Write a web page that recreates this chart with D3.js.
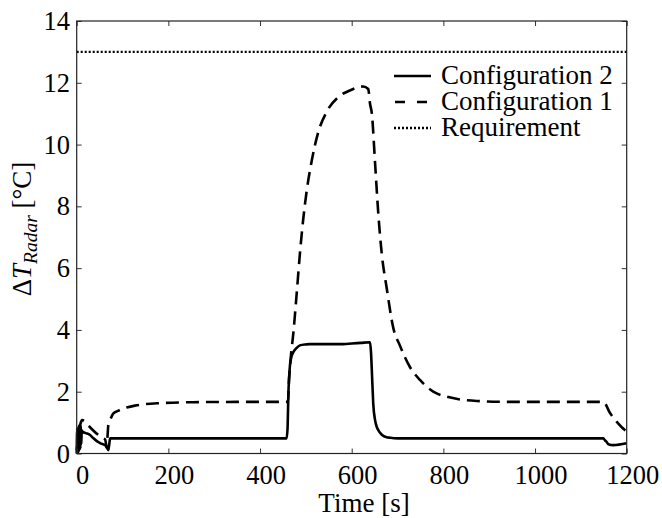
<!DOCTYPE html>
<html>
<head>
<meta charset="utf-8">
<script src="https://cdn.jsdelivr.net/npm/d3@7"></script>
<style>
  html, body { margin: 0; padding: 0; background: #fff; }
  svg { display: block; }
</style>
</head>
<body>
<svg id="chart" width="662" height="518"></svg>
<script>
// time ticks / value ticks
const xTicks = [0, 200, 400, 600, 800, 1000, 1200];
const yTicks = [0, 2, 4, 6, 8, 10, 12, 14];

// Configuration 2 (solid)
const conf2T = [0, 1, 2, 3, 4, 5, 6, 7, 8, 9, 10, 11, 13, 20, 29, 36, 44, 52, 62, 66, 69, 71, 73, 80, 200, 458,
  460, 462, 465, 468, 472, 480, 487, 500, 509, 582, 600, 620, 640, 642, 645, 647, 651, 655, 658, 663, 669, 676, 684,
  700, 800, 1149, 1153, 1156, 1160, 1171, 1200];
const conf2V = [0, 0.8, 0.1, 0.85, 0.05, 0.9, 0.1, 0.85, 0.15, 0.9, 0.3, 0.75, 0.7, 0.66, 0.6, 0.5, 0.4, 0.33, 0.27, 0.2, 0.11, 0.3, 0.49, 0.49, 0.49, 0.49,
  0.8, 2.0, 2.8, 3.1, 3.26, 3.42, 3.5, 3.53, 3.54, 3.54, 3.56, 3.58, 3.6, 3.3, 2.3, 1.62, 1.08, 0.85, 0.76, 0.65, 0.57, 0.53, 0.51,
  0.49, 0.49, 0.49, 0.42, 0.38, 0.3, 0.27, 0.33];

// Configuration 1 (dashed)
const conf1T = [0, 4, 8, 12, 18, 25, 35, 47, 58, 62, 64, 65, 67, 69, 74, 80, 90, 102, 109, 127, 145, 182, 254, 350, 461,
  463, 467, 472.6, 480, 487, 494, 502, 513, 527, 545, 571, 596, 625, 636, 640, 644, 651, 658, 665.5, 676, 691, 705,
  727, 749, 778, 807, 836, 873, 950, 1149, 1164, 1178, 1196, 1200];
const conf1V = [0.1, 0.6, 0.95, 1.08, 1.05, 0.92, 0.76, 0.6, 0.49, 0.45, 0.3, 0.18, 0.5, 0.92, 1.12, 1.3, 1.38, 1.46, 1.49, 1.55, 1.59, 1.63, 1.66, 1.67, 1.67,
  2.3, 3.1, 3.89, 5.18, 6.47, 7.55, 8.52, 9.49, 10.4, 11.05, 11.54, 11.75, 11.88, 11.8, 11.32, 11.0, 9.4, 7.77, 6.47, 5.39, 4.05, 3.5,
  2.8, 2.38, 2.0, 1.84, 1.75, 1.70, 1.67, 1.67, 1.3, 1.03, 0.76, 0.72];

// requirement
const reqT = [0, 1200];
const reqV = [13, 13];

const legendNames = ["Configuration 2", "Configuration 1", "Requirement"];

const LEFT = 76.7, RIGHT = 626.7, TOP = 21, BOTTOM = 453.5;
const TICK_LEN = 5;
const FONT = 26.5;
const SERIF = "'Liberation Serif', 'Times New Roman', Times, 'DejaVu Serif', serif";

const svg = d3.select("#chart");
const g = svg.append("g").attr("font-family", SERIF);

const x = d3.scaleLinear().domain([0, 1200]).range([LEFT, RIGHT]);
const y = d3.scaleLinear().domain([0, 14]).range([BOTTOM, TOP]);

function zip(ts, vs) {
    return ts.map((t, i) => ({ t: t, v: vs[i] }));
}

function draw_frame() {
    // ticks inward on all four sides
    g.append("g").attr("transform", `translate(0,${BOTTOM})`)
        .call(d3.axisBottom(x).tickValues(xTicks).tickSize(-TICK_LEN).tickFormat(""));
    g.append("g").attr("transform", `translate(0,${TOP})`)
        .call(d3.axisTop(x).tickValues(xTicks).tickSize(-TICK_LEN).tickFormat(""));
    g.append("g").attr("transform", `translate(${LEFT},0)`)
        .call(d3.axisLeft(y).tickValues(yTicks).tickSize(-TICK_LEN).tickFormat(""));
    g.append("g").attr("transform", `translate(${RIGHT},0)`)
        .call(d3.axisRight(y).tickValues(yTicks).tickSize(-TICK_LEN).tickFormat(""));
    g.selectAll(".domain").remove();
    g.selectAll(".tick text").remove();
    g.selectAll(".tick line").attr("stroke", "#333").attr("stroke-width", 1);

    g.append("rect")
        .attr("x", LEFT).attr("y", TOP)
        .attr("width", RIGHT - LEFT).attr("height", BOTTOM - TOP)
        .attr("fill", "none")
        .attr("stroke", "#222")
        .attr("stroke-width", 1.2);
}

function add_text(px, py, str, anchor) {
    return g.append("text")
        .attr("x", px)
        .attr("y", py)
        .attr("text-anchor", anchor)
        .attr("font-family", SERIF)
        .attr("font-size", FONT)
        .attr("fill", "black")
        .text(str);
}

function draw_labels() {
    xTicks.forEach(d => add_text(x(d) + 6, 484, d, "middle"));
    yTicks.forEach(d => add_text(70, y(d) + 9, d, "end"));

    add_text(364, 512, "Time [s]", "middle").attr("font-size", 27);

    let yl = g.append("text")
        .attr("transform", "translate(31,229) rotate(-90)")
        .attr("text-anchor", "middle")
        .attr("font-family", SERIF)
        .attr("font-size", 27);
    yl.append("tspan").text("Δ");
    yl.append("tspan").attr("font-style", "italic").text("T");
    yl.append("tspan").attr("font-style", "italic").attr("font-size", 19.5).attr("dy", 6).text("Radar");
    yl.append("tspan").attr("dy", -6).text(" [°C]");
}

function draw_series(ts, vs, dash, width) {
    const line = d3.line()
        .x(d => x(d.t))
        .y(d => y(d.v))
        .curve(d3.curveMonotoneX);
    g.append("path")
        .attr("d", line(zip(ts, vs)))
        .attr("fill", "none")
        .attr("stroke", "black")
        .attr("stroke-width", width)
        .attr("stroke-dasharray", dash)
        .attr("stroke-linejoin", "round");
}

function draw_legend() {
    const styles = [
        { dash: null, w: 2.6 },
        { dash: "10,12", w: 2.6 },
        { dash: "2,2", w: 2.4 }
    ];
    legendNames.forEach((name, i) => {
        let ly = 76 + i * 26;
        g.append("line")
            .attr("x1", 394).attr("x2", 431)
            .attr("y1", ly).attr("y2", ly)
            .attr("stroke", "black")
            .attr("stroke-width", styles[i].w)
            .attr("stroke-dasharray", styles[i].dash)
            .attr("stroke-dashoffset", i === 1 ? -1 : 0);
        add_text(441, ly + 7.5, name, "start").attr("font-size", 27);
    });
}

function init() {
    draw_series(reqT, reqV, "2,2", 2.4);
    draw_series(conf1T, conf1V, "13,7", 2.6);
    draw_series(conf2T, conf2V, null, 2.6);
    draw_frame();
    draw_labels();
    draw_legend();
}

init();
</script>
</body>
</html>
